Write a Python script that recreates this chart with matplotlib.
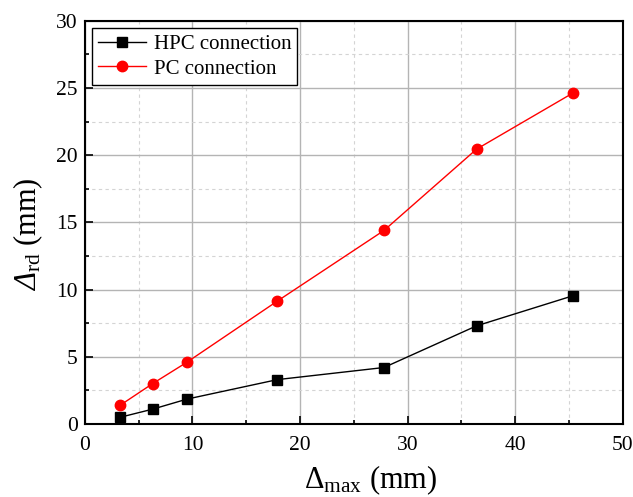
import numpy as np
import matplotlib.pyplot as plt
from matplotlib.ticker import MultipleLocator

plt.rcParams['font.family'] = ['Liberation Serif', 'DejaVu Serif']
plt.rcParams['mathtext.fontset'] = 'custom'
plt.rcParams['mathtext.rm'] = 'Liberation Serif'
plt.rcParams['mathtext.it'] = 'Liberation Serif:italic'
plt.rcParams['mathtext.sf'] = 'Liberation Serif:italic'

# data
delta_max = [3.3, 6.3, 9.5, 17.9, 27.8, 36.4, 45.4]
hpc_rd = [0.5, 1.1, 1.85, 3.3, 4.2, 7.3, 9.55]
pc_rd = [1.4, 3.0, 4.6, 9.15, 14.4, 20.45, 24.65]

fig = plt.figure(figsize=(6.33, 4.97), dpi=100)
ax = fig.add_axes([0.134, 0.147, 0.850, 0.811])

ax.plot(delta_max, hpc_rd, color='black', lw=1, marker='s', ms=7,
        label='HPC connection', zorder=3)
ax.plot(delta_max, pc_rd, color='red', lw=1, marker='o', ms=7.5,
        label='PC connection', zorder=3)

ax.set_xlim(0, 50)
ax.set_ylim(0, 30)
ax.xaxis.set_major_locator(MultipleLocator(10))
ax.xaxis.set_minor_locator(MultipleLocator(5))
ax.yaxis.set_major_locator(MultipleLocator(5))
ax.yaxis.set_minor_locator(MultipleLocator(2.5))

ax.grid(which='major', color='#b4b4b4', lw=1, ls='-')
ax.grid(which='minor', color='#d4d4d4', lw=0.8, ls=(0, (3, 3)))
ax.set_axisbelow(True)

ax.tick_params(which='both', direction='in', labelsize=15.5, width=1.2)
ax.tick_params(which='major', length=6)
ax.tick_params(axis='x', which='major', pad=9)
ax.tick_params(axis='y', which='major', pad=5)
ax.tick_params(which='minor', length=3)
for s in ax.spines.values():
    s.set_linewidth(1.5)

ax.set_xlabel(r'$\Delta$$\mathregular{_{max}}$ (mm)', fontsize=22)
ax.set_ylabel(r'$\mathsf{\Delta}$$\mathregular{_{rd}}$ (mm)', fontsize=22)
ax.xaxis.set_label_coords(0.532, -0.098)
ax.yaxis.set_label_coords(-0.074, 0.47)

leg = ax.legend(loc='upper left', fontsize=15, fancybox=False, edgecolor='black',
                framealpha=1, borderpad=0.3, handlelength=2.3, handletextpad=0.35,
                labelspacing=0.25, borderaxespad=0.35)
leg.get_frame().set_linewidth(1)

fig.savefig('out.png', dpi=100)
